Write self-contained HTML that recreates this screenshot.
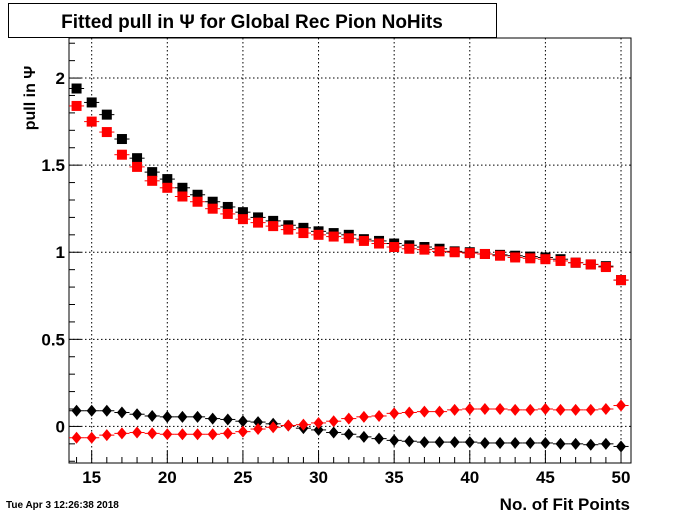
<!DOCTYPE html>
<html><head><meta charset="utf-8"><style>
body{margin:0;background:#fff;width:700px;height:514px;overflow:hidden;font-family:"Liberation Sans",sans-serif}
</style></head><body>
<svg id="c" width="700" height="514" xmlns="http://www.w3.org/2000/svg">
<rect x="0" y="0" width="700" height="514" fill="#fff"/>
<g>
<rect x="8.5" y="3.5" width="488" height="34" fill="#fff" stroke="#000"/>
<text x="252" y="28" text-anchor="middle" font-size="19" font-weight="bold" font-family="Liberation Sans, sans-serif">Fitted pull in  Ψ  for Global Rec Pion NoHits</text>
</g>
<text x="35" y="98" transform="rotate(-90 35 98)" text-anchor="middle" font-size="16" font-weight="bold" font-family="Liberation Sans, sans-serif">pull in  Ψ</text>
<text x="630" y="510" text-anchor="end" font-size="17" font-weight="bold" font-family="Liberation Sans, sans-serif">No. of Fit Points</text>
<text x="6" y="508" font-size="10" font-weight="bold" font-family="Liberation Sans, sans-serif">Tue Apr  3 12:26:38 2018</text>
<g id="plot"></g>
</svg>
<script>
const xs = [14,15,16,17,18,19,20,21,22,23,24,25,26,27,28,29,30,31,32,33,34,35,36,37,38,39,40,41,42,43,44,45,46,47,48,49,50];
const blackWidth = [1.94,1.86,1.79,1.65,1.54,1.46,1.42,1.37,1.33,1.29,1.26,1.23,1.2,1.18,1.155,1.14,1.12,1.11,1.10,1.075,1.065,1.05,1.04,1.03,1.02,1.005,1.0,0.99,0.985,0.98,0.975,0.97,0.96,0.94,0.93,0.92,0.84];
const redWidth = [1.84,1.75,1.69,1.56,1.49,1.41,1.37,1.32,1.29,1.25,1.22,1.19,1.17,1.15,1.13,1.11,1.10,1.09,1.08,1.065,1.05,1.03,1.02,1.015,1.005,1.0,0.995,0.99,0.98,0.97,0.965,0.96,0.95,0.94,0.93,0.915,0.84];
const blackMean = [0.09,0.09,0.09,0.08,0.07,0.06,0.055,0.055,0.055,0.045,0.04,0.03,0.025,0.015,0.005,-0.01,-0.02,-0.035,-0.045,-0.06,-0.07,-0.08,-0.085,-0.09,-0.09,-0.09,-0.09,-0.095,-0.095,-0.095,-0.095,-0.095,-0.1,-0.1,-0.105,-0.1,-0.115];
const redMean = [-0.065,-0.065,-0.05,-0.04,-0.035,-0.04,-0.045,-0.045,-0.045,-0.045,-0.04,-0.03,-0.015,-0.005,0.005,0.01,0.02,0.03,0.045,0.055,0.06,0.075,0.08,0.085,0.085,0.095,0.1,0.1,0.1,0.095,0.095,0.1,0.095,0.095,0.095,0.1,0.12];
const xTicks = [15,20,25,30,35,40,45,50];
const yTicks = [0,0.5,1,1.5,2];
const yTickLabels = ["0","0.5","1","1.5","2"];

const L=69,R=631,T=38,B=463, X0=13.5,X1=50.66, Y0=-0.21,Y1=2.23;
const sx=v=>L+(v-X0)/(X1-X0)*(R-L);
const sy=v=>B-(v-Y0)/(Y1-Y0)*(B-T);
const NS="http://www.w3.org/2000/svg";
const g=document.getElementById('plot');
function mk(t,a){const e=document.createElementNS(NS,t);for(const k in a)e.setAttribute(k,a[k]);g.appendChild(e);return e;}

// grid
xTicks.forEach(v=>{const e=mk('line',{x1:sx(v),x2:sx(v),y1:T,y2:B,stroke:'#000','stroke-dasharray':'1.5,2.5','stroke-width':1});

});
yTicks.forEach(v=>{const e=mk('line',{x1:L,x2:R,y1:sy(v),y2:sy(v),stroke:'#000','stroke-dasharray':'1.5,2.5','stroke-width':1});

});
// frame
const fr=mk('rect',{x:L,y:T,width:R-L,height:B-T,fill:'none',stroke:'#000'});


// x ticks
for(let v=14;v<=50;v++){const big=v%5==0;mk('line',{x1:sx(v),x2:sx(v),y1:B,y2:B-(big?12:6),stroke:'#000'});}
xTicks.forEach(v=>{const t=mk('text',{x:sx(v),y:B+20,'text-anchor':'middle','font-size':17,'font-weight':'bold','font-family':'Liberation Sans, sans-serif'});t.textContent=v;

});
// y ticks
for(let i=-2;i<=22;i++){const v=i/10;const big=i%5==0;mk('line',{x1:L,x2:L+(big?12:6),y1:sy(v),y2:sy(v),stroke:'#000'});}
yTicks.forEach((v,i)=>{const t=mk('text',{x:L-4,y:sy(v)+6,'text-anchor':'end','font-size':17,'font-weight':'bold','font-family':'Liberation Sans, sans-serif'});t.textContent=yTickLabels[i];

});

function series(vals,color,shape,name){
  vals.forEach((v,i)=>{
    const x=xs[i], y=sy(v);
    mk('line',{x1:sx(x-0.5),x2:sx(x+0.5),y1:y,y2:y,stroke:color,'stroke-width':1});
    let e;
    if(shape==='sq') e=mk('rect',{x:sx(x)-5,y:y-5,width:10,height:10,fill:color});
    else e=mk('polygon',{points:`${sx(x)},${y-6} ${sx(x)+5},${y} ${sx(x)},${y+6} ${sx(x)-5},${y}`,fill:color});
    
    
  });
}
series(blackWidth,'#000','sq','black-width-point');
series(redWidth,'#f00','sq','red-width-point');
series(blackMean,'#000','di','black-mean-point');
series(redMean,'#f00','di','red-mean-point');
</script>
</body></html>
